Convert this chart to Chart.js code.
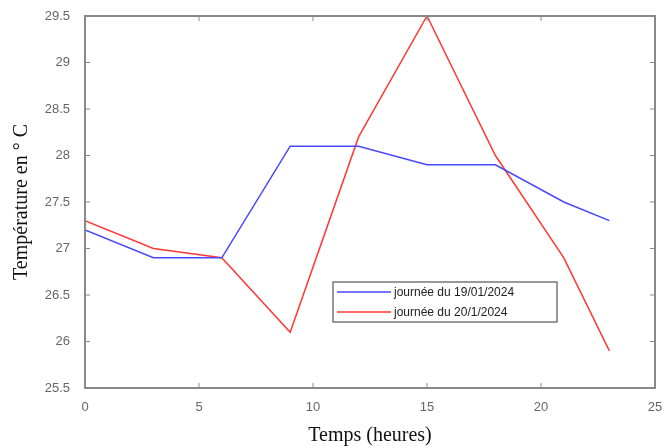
<!DOCTYPE html>
<html>
<head>
<meta charset="utf-8">
<script src="https://cdn.jsdelivr.net/npm/chart.js@4"></script>
<style>
  body { margin: 0; background: #fff; }
  #wrap { width: 665px; height: 448px; }
</style>
</head>
<body>
<div id="wrap"><canvas id="myChart" width="665" height="448"></canvas></div>
<script>
// heures de mesure
const hours = [0, 3, 6, 9, 12, 15, 18, 21, 23];
// journée du 19/01/2024
const temp19 = [27.2, 26.9, 26.9, 28.1, 28.1, 27.9, 27.9, 27.5, 27.3];
// journée du 20/1/2024
const temp20 = [27.3, 27.0, 26.9, 26.1, 28.2, 29.5, 28.0, 26.9, 25.9];
const seriesLabels = ['journée du 19/01/2024', 'journée du 20/1/2024'];
const xTicks = [0, 5, 10, 15, 20, 25];
const yTicks = [25.5, 26, 26.5, 27, 27.5, 28, 28.5, 29, 29.5];

const toPoints = (xs, ys) => xs.map((x, i) => ({x: x, y: ys[i]}));

// cadre style matlab + ticks vers l'intérieur + légende encadrée
const boxPlugin = {
    id: 'box',
    afterDraw(chart) {
        const ctx = chart.ctx;
        const a = chart.chartArea;
        const xs = chart.scales.x, ys = chart.scales.y;
        ctx.save();
        ctx.strokeStyle = '#888';
        ctx.lineWidth = 2;
        ctx.strokeRect(a.left, a.top, a.right - a.left, a.bottom - a.top);
        ctx.lineWidth = 1;
        ctx.beginPath();
        xTicks.forEach(v => {
            const px = xs.getPixelForValue(v);
            ctx.moveTo(px, a.bottom); ctx.lineTo(px, a.bottom - 5);
            ctx.moveTo(px, a.top); ctx.lineTo(px, a.top + 5);
        });
        yTicks.forEach(v => {
            const py = ys.getPixelForValue(v);
            ctx.moveTo(a.left, py); ctx.lineTo(a.left + 5, py);
            ctx.moveTo(a.right, py); ctx.lineTo(a.right - 5, py);
        });
        ctx.stroke();

        // légende
        const lx = 333, ly = 282, lw = 224, lh = 40;
        ctx.fillStyle = '#fff';
        ctx.fillRect(lx, ly, lw, lh);
        ctx.strokeStyle = '#555';
        ctx.lineWidth = 1.2;
        ctx.strokeRect(lx, ly, lw, lh);
        ctx.font = '12px "Liberation Sans", Arial, sans-serif';
        ctx.textBaseline = 'middle';
        chart.data.datasets.forEach((ds, i) => {
            const y = ly + 10 + i * 20;
            ctx.strokeStyle = ds.borderColor;
            ctx.lineWidth = 1.5;
            ctx.beginPath();
            ctx.moveTo(lx + 4, y); ctx.lineTo(lx + 58, y);
            ctx.stroke();
            ctx.fillStyle = '#222';
            ctx.fillText(ds.label, lx + 61, y + 1);
        });
        ctx.restore();
    }
};

const ctx = document.getElementById('myChart');
new Chart(ctx, {
    type: 'line',
    data: {
        datasets: [{
            label: seriesLabels[0],
            data: toPoints(hours, temp19),
            borderColor: '#4747ff',
            borderWidth: 1.5,
            pointRadius: 0,
            tension: 0
        }, {
            label: seriesLabels[1],
            data: toPoints(hours, temp20),
            borderColor: '#ff3838',
            borderWidth: 1.5,
            pointRadius: 0,
            tension: 0
        }]
    },
    options: {
        responsive: false,
        animation: false,
        layout: { padding: { left: 10, top: 16, right: 10, bottom: 0 } },
        plugins: {
            legend: { display: false },
            tooltip: { enabled: false }
        },
        scales: {
            x: {
                type: 'linear',
                min: 0, max: 25,
                afterBuildTicks: s => { s.ticks = xTicks.map(v => ({value: v})); },
                afterFit: s => { s.height = 60; s.paddingLeft = 0; s.paddingRight = 0; },
                grid: { display: false },
                border: { display: false },
                ticks: {
                    color: '#666',
                    padding: 4,
                    callback: v => v,
                    font: { family: '"Liberation Sans", Arial, sans-serif', size: 13 }
                },
                title: {
                    display: true,
                    text: 'Temps (heures)',
                    color: '#111',
                    padding: { top: 0, bottom: 0 },
                    font: { family: '"Liberation Serif", "Times New Roman", serif', size: 20 }
                }
            },
            y: {
                type: 'linear',
                min: 25.5, max: 29.5,
                afterBuildTicks: s => { s.ticks = yTicks.map(v => ({value: v})); },
                afterFit: s => { s.width = 75; s.paddingTop = 0; s.paddingBottom = 0; },
                grid: { display: false },
                border: { display: false },
                ticks: {
                    color: '#666',
                    padding: 7,
                    callback: v => v,
                    font: { family: '"Liberation Sans", Arial, sans-serif', size: 13 }
                },
                title: {
                    display: true,
                    text: 'Température en ° C',
                    color: '#111',
                    padding: { top: 0, bottom: 0 },
                    font: { family: '"Liberation Serif", "Times New Roman", serif', size: 20 }
                }
            }
        }
    },
    plugins: [boxPlugin]
});
</script>
</body>
</html>
